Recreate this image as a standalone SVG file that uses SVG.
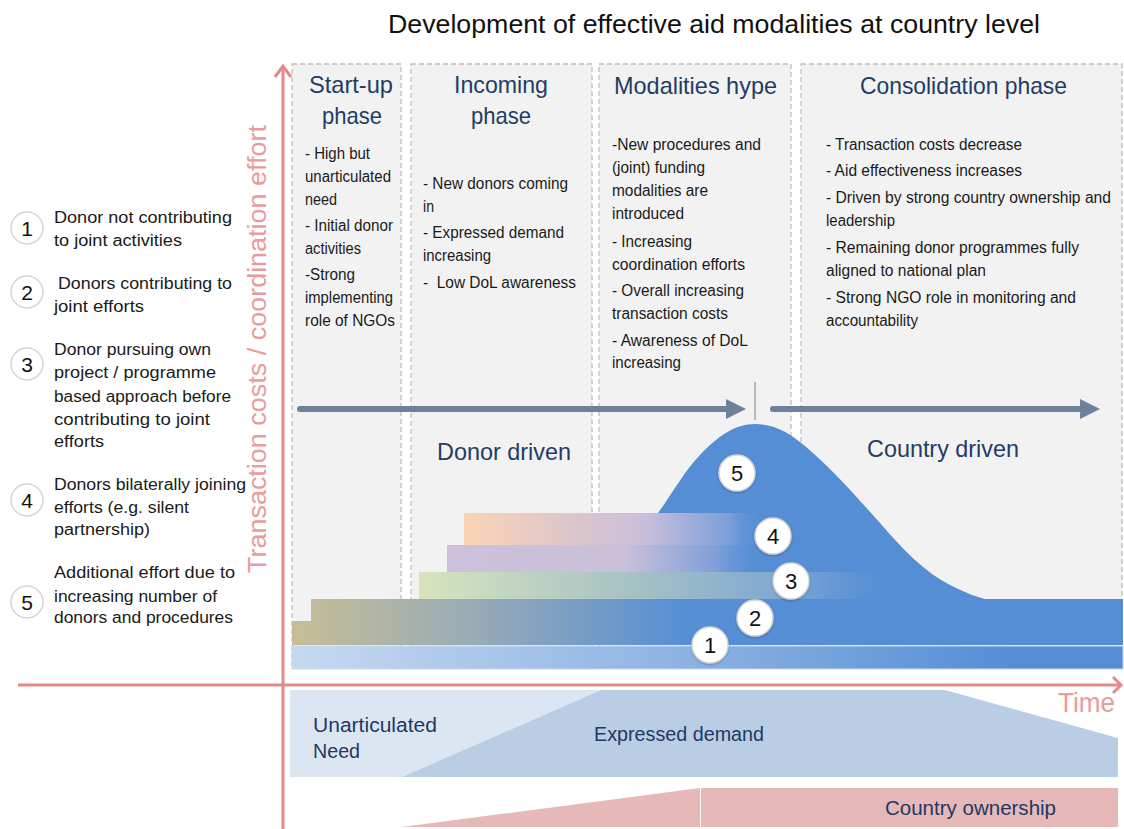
<svg xmlns="http://www.w3.org/2000/svg" width="1124" height="829" viewBox="0 0 1124 829">
  <style>
    text { font-family: "Liberation Sans", Arial, sans-serif; }
    .title { font-size: 26px; fill: #111111; }
    .phase { font-size: 24px; fill: #1f3d66; text-anchor: start; }
    .bul { font-size: 16px; fill: #1a1a1a; }
    .leg { font-size: 16px; fill: #1a1a1a; }
    .drv { font-size: 24px; fill: #1f3d66; }
    .band { font-size: 20px; fill: #1f3864; }
    .axlbl { font-size: 25px; fill: #e89c9c; }
    .box { fill: #f2f2f2; stroke: #bfbfbf; stroke-width: 1.3; stroke-dasharray: 5 3; }
    .axis { stroke: #e48a8a; stroke-width: 3; fill: none; }
    .flow { stroke: #6d819b; stroke-width: 6; stroke-linecap: round; fill: none; }
    .head { fill: #6d819b; }
    .badge { fill: #ffffff; stroke: #d4d4d4; stroke-width: 1.5; }
    .num { font-size: 22px; fill: #111111; text-anchor: middle; }
    .lnum { font-size: 21px; fill: #111111; text-anchor: middle; }
  </style>
  <defs>
    <linearGradient id="gBar1" gradientUnits="userSpaceOnUse" x1="292" y1="0" x2="1010" y2="0">
      <stop offset="0" stop-color="#c6d9f1"/>
      <stop offset="0.55" stop-color="#8db2e2"/>
      <stop offset="1" stop-color="#558ed5"/>
    </linearGradient>
    <linearGradient id="gBar2" gradientUnits="userSpaceOnUse" x1="300" y1="0" x2="690" y2="0">
      <stop offset="0" stop-color="#c4bd97"/>
      <stop offset="0.45" stop-color="#98abb6"/>
      <stop offset="1" stop-color="#558ed5"/>
    </linearGradient>
    <linearGradient id="gBar3" gradientUnits="userSpaceOnUse" x1="419" y1="0" x2="885" y2="0">
      <stop offset="0" stop-color="#d7e4bd"/>
      <stop offset="0.45" stop-color="#a6c2c4"/>
      <stop offset="0.78" stop-color="#80a9d2"/>
      <stop offset="1" stop-color="#6f9dd6" stop-opacity="0"/>
    </linearGradient>
    <linearGradient id="gBar4" gradientUnits="userSpaceOnUse" x1="447" y1="0" x2="765" y2="0">
      <stop offset="0" stop-color="#ccc0da"/>
      <stop offset="0.55" stop-color="#cbc0da"/>
      <stop offset="0.85" stop-color="#7f9fd9"/>
      <stop offset="1" stop-color="#558ed5" stop-opacity="0"/>
    </linearGradient>
    <linearGradient id="gBar5" gradientUnits="userSpaceOnUse" x1="464" y1="0" x2="765" y2="0">
      <stop offset="0" stop-color="#fbd4b5"/>
      <stop offset="0.4" stop-color="#d9c4cd"/>
      <stop offset="0.6" stop-color="#c9bfdb"/>
      <stop offset="0.88" stop-color="#7d9fd9"/>
      <stop offset="1" stop-color="#558ed5" stop-opacity="0"/>
    </linearGradient>
    <filter id="shadow" x="-30%" y="-30%" width="160%" height="160%">
      <feDropShadow dx="0" dy="1" stdDeviation="1.2" flood-color="#000000" flood-opacity="0.25"/>
    </filter>
  </defs>

  <rect x="0" y="0" width="1124" height="829" fill="#ffffff"/>

  <!-- heading -->
  <text class="title" x="388" y="33" textLength="652" lengthAdjust="spacingAndGlyphs">Development of effective aid modalities at country level</text>

  <!-- phase columns -->
  <g id="phase-startup">
    <rect class="box" x="292" y="64" width="109" height="604"/>
    <text class="phase" x="309" y="93" textLength="84" lengthAdjust="spacingAndGlyphs">Start-up</text>
    <text class="phase" x="322" y="124" textLength="60" lengthAdjust="spacingAndGlyphs">phase</text>
    <text class="bul" x="305" y="159" textLength="65" lengthAdjust="spacingAndGlyphs">- High but</text>
    <text class="bul" x="305" y="182" textLength="86" lengthAdjust="spacingAndGlyphs">unarticulated</text>
    <text class="bul" x="305" y="205" textLength="32" lengthAdjust="spacingAndGlyphs">need</text>
    <text class="bul" x="305" y="231" textLength="88" lengthAdjust="spacingAndGlyphs">- Initial donor</text>
    <text class="bul" x="305" y="254" textLength="56" lengthAdjust="spacingAndGlyphs">activities</text>
    <text class="bul" x="305" y="280" textLength="50" lengthAdjust="spacingAndGlyphs">-Strong</text>
    <text class="bul" x="305" y="303" textLength="88" lengthAdjust="spacingAndGlyphs">implementing</text>
    <text class="bul" x="305" y="326" textLength="90" lengthAdjust="spacingAndGlyphs">role of NGOs</text>
  </g>

  <g id="phase-incoming">
    <rect class="box" x="411" y="64" width="181" height="604"/>
    <text class="phase" x="454" y="93" textLength="94" lengthAdjust="spacingAndGlyphs">Incoming</text>
    <text class="phase" x="471" y="124" textLength="60" lengthAdjust="spacingAndGlyphs">phase</text>
    <text class="bul" x="423" y="189" textLength="145" lengthAdjust="spacingAndGlyphs">- New donors coming</text>
    <text class="bul" x="423" y="212" textLength="11" lengthAdjust="spacingAndGlyphs">in</text>
    <text class="bul" x="423" y="238" textLength="141" lengthAdjust="spacingAndGlyphs">- Expressed demand</text>
    <text class="bul" x="423" y="261" textLength="68" lengthAdjust="spacingAndGlyphs">increasing</text>
    <text class="bul" x="423" y="288" textLength="153" lengthAdjust="spacingAndGlyphs" xml:space="preserve">-  Low DoL awareness</text>
  </g>

  <g id="phase-hype">
    <rect class="box" x="599" y="64" width="192" height="604"/>
    <text class="phase" x="614" y="94" textLength="163" lengthAdjust="spacingAndGlyphs">Modalities hype</text>
    <text class="bul" x="612" y="150" textLength="149" lengthAdjust="spacingAndGlyphs">-New procedures and</text>
    <text class="bul" x="612" y="173" textLength="93" lengthAdjust="spacingAndGlyphs">(joint) funding</text>
    <text class="bul" x="612" y="196" textLength="96" lengthAdjust="spacingAndGlyphs">modalities are</text>
    <text class="bul" x="612" y="219" textLength="72" lengthAdjust="spacingAndGlyphs">introduced</text>
    <text class="bul" x="612" y="247" textLength="80" lengthAdjust="spacingAndGlyphs">- Increasing</text>
    <text class="bul" x="612" y="270" textLength="133" lengthAdjust="spacingAndGlyphs">coordination efforts</text>
    <text class="bul" x="612" y="296" textLength="132" lengthAdjust="spacingAndGlyphs">- Overall increasing</text>
    <text class="bul" x="612" y="319" textLength="116" lengthAdjust="spacingAndGlyphs">transaction costs</text>
    <text class="bul" x="612" y="346" textLength="136" lengthAdjust="spacingAndGlyphs">- Awareness of DoL</text>
    <text class="bul" x="612" y="368" textLength="69" lengthAdjust="spacingAndGlyphs">increasing</text>
  </g>

  <g id="phase-consolidation">
    <rect class="box" x="801" y="64" width="321" height="604"/>
    <text class="phase" x="860" y="94" textLength="207" lengthAdjust="spacingAndGlyphs">Consolidation phase</text>
    <text class="bul" x="826" y="150" textLength="196" lengthAdjust="spacingAndGlyphs">- Transaction costs decrease</text>
    <text class="bul" x="826" y="176" textLength="196" lengthAdjust="spacingAndGlyphs">- Aid effectiveness increases</text>
    <text class="bul" x="826" y="203" textLength="285" lengthAdjust="spacingAndGlyphs">- Driven by strong country ownership and</text>
    <text class="bul" x="826" y="226" textLength="69" lengthAdjust="spacingAndGlyphs">leadership</text>
    <text class="bul" x="826" y="253" textLength="253" lengthAdjust="spacingAndGlyphs">- Remaining donor programmes fully</text>
    <text class="bul" x="826" y="276" textLength="160" lengthAdjust="spacingAndGlyphs">aligned to national plan</text>
    <text class="bul" x="826" y="303" textLength="250" lengthAdjust="spacingAndGlyphs">- Strong NGO role in monitoring and</text>
    <text class="bul" x="826" y="326" textLength="92" lengthAdjust="spacingAndGlyphs">accountability</text>
  </g>

  <!-- effort layers -->
  <g id="layer-1">
    <rect x="292" y="646" width="831" height="23" fill="url(#gBar1)" stroke="#c6d9f1" stroke-width="1"/>
  </g>
  <g id="layer-2">
    <polygon points="292,621 311,621 311,599 1123,599 1123,645 292,645" fill="url(#gBar2)"/>
  </g>
  <g id="layer-5-peak">
    <path d="M658,513 C672,494 685,470 700,455 C718,436 735,424 755,424 C775,424 790,433 805,446 C830,467 855,495 880,523 C905,552 925,572 950,585 C975,598 1000,606 1050,608 L1123,608 L1123,600 L658,600 Z" fill="#558ed5"/>
  </g>
  <g id="layer-3">
    <rect x="419" y="572" width="466" height="27" fill="url(#gBar3)"/>
  </g>
  <g id="layer-4a">
    <rect x="447" y="545" width="318" height="27" fill="url(#gBar4)"/>
  </g>
  <g id="layer-4b">
    <rect x="464" y="513" width="301" height="32" fill="url(#gBar5)"/>
  </g>

  <!-- bottom bands -->
  <g id="band-need">
    <polygon points="290,690 601,690 402,777 290,777" fill="#dce6f2"/>
    <text class="band" x="313" y="732" textLength="124" lengthAdjust="spacingAndGlyphs">Unarticulated</text>
    <text class="band" x="313" y="758" textLength="47" lengthAdjust="spacingAndGlyphs">Need</text>
  </g>
  <g id="band-demand">
    <polygon points="601,690 945,690 1118,738 1118,777 402,777" fill="#b9cde5"/>
    <text class="band" x="594" y="741" textLength="170" lengthAdjust="spacingAndGlyphs">Expressed demand</text>
  </g>
  <g id="band-ownership">
    <polygon points="402,827 700,788 700,827" fill="#e6b8b7"/>
    <rect x="701" y="788" width="417" height="39" fill="#e6b8b7"/>
    <text class="band" x="885" y="815" textLength="171" lengthAdjust="spacingAndGlyphs">Country ownership</text>
  </g>

  <!-- drive labels -->
  <g id="label-donor-driven">
    <text class="drv" x="437" y="460" textLength="134" lengthAdjust="spacingAndGlyphs">Donor driven</text>
  </g>
  <g id="label-country-driven">
    <text class="drv" x="867" y="457" textLength="152" lengthAdjust="spacingAndGlyphs">Country driven</text>
  </g>

  <!-- connectors: axes, flow arrows, divider -->
  <g id="connectors">
    <line class="axis" x1="283" y1="829" x2="283" y2="66"/>
    <polyline class="axis" points="275,77 283,66 291,77"/>
    <line class="axis" x1="18" y1="685" x2="1121" y2="685"/>
    <polyline class="axis" points="1113,677 1121,685 1113,693"/>
    <line class="flow" x1="300" y1="409" x2="728" y2="409"/>
    <polygon class="head" points="726,399 746,409 726,419"/>
    <line class="flow" x1="773" y1="409" x2="1082" y2="409"/>
    <polygon class="head" points="1080,399 1100,409 1080,419"/>
    <line x1="755" y1="382" x2="755" y2="420" stroke="#a6a6a6" stroke-width="1.5"/>
  </g>

  <!-- axis captions -->
  <text class="axlbl" transform="translate(266,573) rotate(-90)" x="0" y="0" textLength="448" lengthAdjust="spacingAndGlyphs">Transaction costs / coordination effort</text>
  <text class="axlbl" x="1058" y="712" style="font-size:28px" textLength="57" lengthAdjust="spacingAndGlyphs">Time</text>

  <!-- plot markers -->
  <g id="marker-5"><circle class="badge" cx="737" cy="473" r="18" filter="url(#shadow)"/><text class="num" x="737" y="481">5</text></g>
  <g id="marker-4"><circle class="badge" cx="773" cy="536" r="18" filter="url(#shadow)"/><text class="num" x="773" y="544">4</text></g>
  <g id="marker-3"><circle class="badge" cx="791" cy="581" r="18" filter="url(#shadow)"/><text class="num" x="791" y="589">3</text></g>
  <g id="marker-2"><circle class="badge" cx="755" cy="618" r="18" filter="url(#shadow)"/><text class="num" x="755" y="626">2</text></g>
  <g id="marker-1"><circle class="badge" cx="710" cy="645" r="18" filter="url(#shadow)"/><text class="num" x="710" y="653">1</text></g>

  <!-- legend -->
  <g id="legend-1">
    <circle class="badge" cx="27" cy="228" r="16"/>
    <text class="lnum" x="27" y="236">1</text>
    <text class="leg" x="54" y="223" textLength="178" lengthAdjust="spacingAndGlyphs">Donor not contributing</text>
    <text class="leg" x="54" y="246" textLength="128" lengthAdjust="spacingAndGlyphs">to joint activities</text>
  </g>
  <g id="legend-2">
    <circle class="badge" cx="27" cy="292" r="16"/>
    <text class="lnum" x="27" y="300">2</text>
    <text class="leg" x="58" y="289" textLength="174" lengthAdjust="spacingAndGlyphs">Donors contributing to</text>
    <text class="leg" x="54" y="312" textLength="90" lengthAdjust="spacingAndGlyphs">joint efforts</text>
  </g>
  <g id="legend-3">
    <circle class="badge" cx="27" cy="364" r="16"/>
    <text class="lnum" x="27" y="372">3</text>
    <text class="leg" x="54" y="355" textLength="157" lengthAdjust="spacingAndGlyphs">Donor pursuing own</text>
    <text class="leg" x="54" y="378" textLength="162" lengthAdjust="spacingAndGlyphs">project / programme</text>
    <text class="leg" x="54" y="402" textLength="177" lengthAdjust="spacingAndGlyphs">based approach before</text>
    <text class="leg" x="54" y="425" textLength="156" lengthAdjust="spacingAndGlyphs">contributing to joint</text>
    <text class="leg" x="54" y="447" textLength="50" lengthAdjust="spacingAndGlyphs">efforts</text>
  </g>
  <g id="legend-4">
    <circle class="badge" cx="27" cy="500" r="16"/>
    <text class="lnum" x="27" y="508">4</text>
    <text class="leg" x="54" y="490" textLength="192" lengthAdjust="spacingAndGlyphs">Donors bilaterally joining</text>
    <text class="leg" x="54" y="513" textLength="135" lengthAdjust="spacingAndGlyphs">efforts (e.g. silent</text>
    <text class="leg" x="54" y="535" textLength="96" lengthAdjust="spacingAndGlyphs">partnership)</text>
  </g>
  <g id="legend-5">
    <circle class="badge" cx="27" cy="602" r="16"/>
    <text class="lnum" x="27" y="610">5</text>
    <text class="leg" x="54" y="578" textLength="181" lengthAdjust="spacingAndGlyphs">Additional effort due to</text>
    <text class="leg" x="54" y="602" textLength="163" lengthAdjust="spacingAndGlyphs">increasing number of</text>
    <text class="leg" x="54" y="623" textLength="179" lengthAdjust="spacingAndGlyphs">donors and procedures</text>
  </g>
</svg>
